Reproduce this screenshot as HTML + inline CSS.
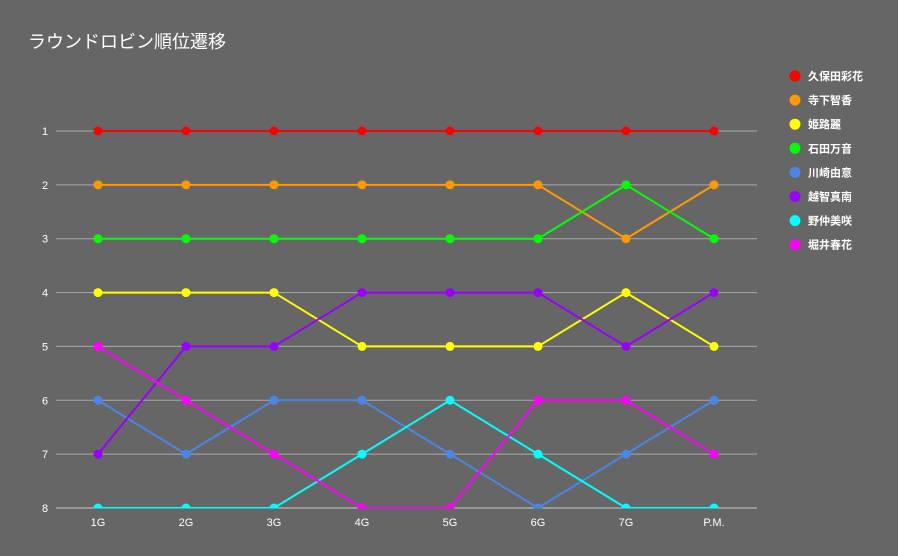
<!DOCTYPE html>
<html><head><meta charset="utf-8"><style>
html,body{margin:0;padding:0;background:#666666;}
svg{display:block;font-family:"Liberation Sans","Noto Sans CJK JP",sans-serif;}
</style></head><body>
<svg id="chart" width="898" height="556" viewBox="0 0 898 556">
<rect width="898" height="556" fill="#666666"/>
<text x="28" y="48" fill="#ffffff" font-size="18">ラウンドロビン順位遷移</text>
<defs><clipPath id="plotclip"><rect x="50" y="100" width="720" height="408.5"/></clipPath></defs>
<g id="grid"></g>
<g id="series" clip-path="url(#plotclip)"></g>
<g id="legend"></g>
</svg>
<script>
const categories = ["1G","2G","3G","4G","5G","6G","7G","P.M."];
const yTicks = [1,2,3,4,5,6,7,8];
const seriesNames = ["久保田彩花","寺下智香","姫路麗","石田万音","川崎由意","越智真南","野仲美咲","堀井春花"];
const seriesColors = ["#ff0000","#ff9900","#ffff00","#00ff00","#4a86e8","#9900ff","#00ffff","#ff00ff"];
const kuboRanks = [1,1,1,1,1,1,1,1];
const terashitaRanks = [2,2,2,2,2,2,3,2];
const himejiRanks = [4,4,4,5,5,5,4,5];
const ishidaRanks = [3,3,3,3,3,3,2,3];
const kawasakiRanks = [6,7,6,6,7,8,7,6];
const ochiRanks = [7,5,5,4,4,4,5,4];
const nonakaRanks = [8,8,8,7,6,7,8,8];
const horiiRanks = [5,6,7,8,8,6,6,7];
const seriesValues = [kuboRanks,terashitaRanks,himejiRanks,ishidaRanks,kawasakiRanks,ochiRanks,nonakaRanks,horiiRanks];

const NS = "http://www.w3.org/2000/svg";
const x0 = 98, xStep = 88;
const y1 = 131, y8 = 508;
function xScale(i){ return x0 + i*xStep; }
function yScale(r){ return y1 + (r-1)*(y8-y1)/7; }
function mk(tag, attrs, parent){ const e=document.createElementNS(NS,tag); for(const k in attrs) e.setAttribute(k,attrs[k]); parent.appendChild(e); return e; }

const grid = document.getElementById("grid");
yTicks.forEach(t=>{
  const l = mk("line",{x1:56,x2:757,y1:yScale(t),y2:yScale(t),stroke:t===8?"#cccccc":"#aaaaaa","stroke-width":1},grid);
  
  
  const tx = mk("text",{x:45,y:yScale(t)+4,fill:"#ffffff","font-size":11,"text-anchor":"middle"},grid);
  tx.textContent = t;
  
  
});
categories.forEach((c,i)=>{
  const tx = mk("text",{x:xScale(i),y:526,fill:"#ffffff","font-size":11,"text-anchor":"middle"},grid);
  tx.textContent = c;
  
  
});

const sg = document.getElementById("series");
seriesValues.forEach((vals,si)=>{
  const g = mk("g",{},sg);
  
  
  const pts = vals.map((v,i)=>xScale(i)+","+yScale(v)).join(" ");
  const pl = mk("polyline",{points:pts,fill:"none",stroke:seriesColors[si],"stroke-width":2},g);
  
  
  vals.forEach((v,i)=>{
    const c = mk("circle",{cx:xScale(i),cy:yScale(v),r:4.5,fill:seriesColors[si]},g);
    
    
  });
});

const lg = document.getElementById("legend");
seriesNames.forEach((n,i)=>{
  const y = 76 + i*24.1;
  const g = mk("g",{},lg);
  
  
  const c = mk("circle",{cx:795,cy:y,r:5.5,fill:seriesColors[i]},g);
  
  
  const t = mk("text",{x:808,y:y+4,fill:"#ffffff","font-size":11,"font-weight":"bold"},g);
  t.textContent = n;
  
  
});
</script>
</body></html>
